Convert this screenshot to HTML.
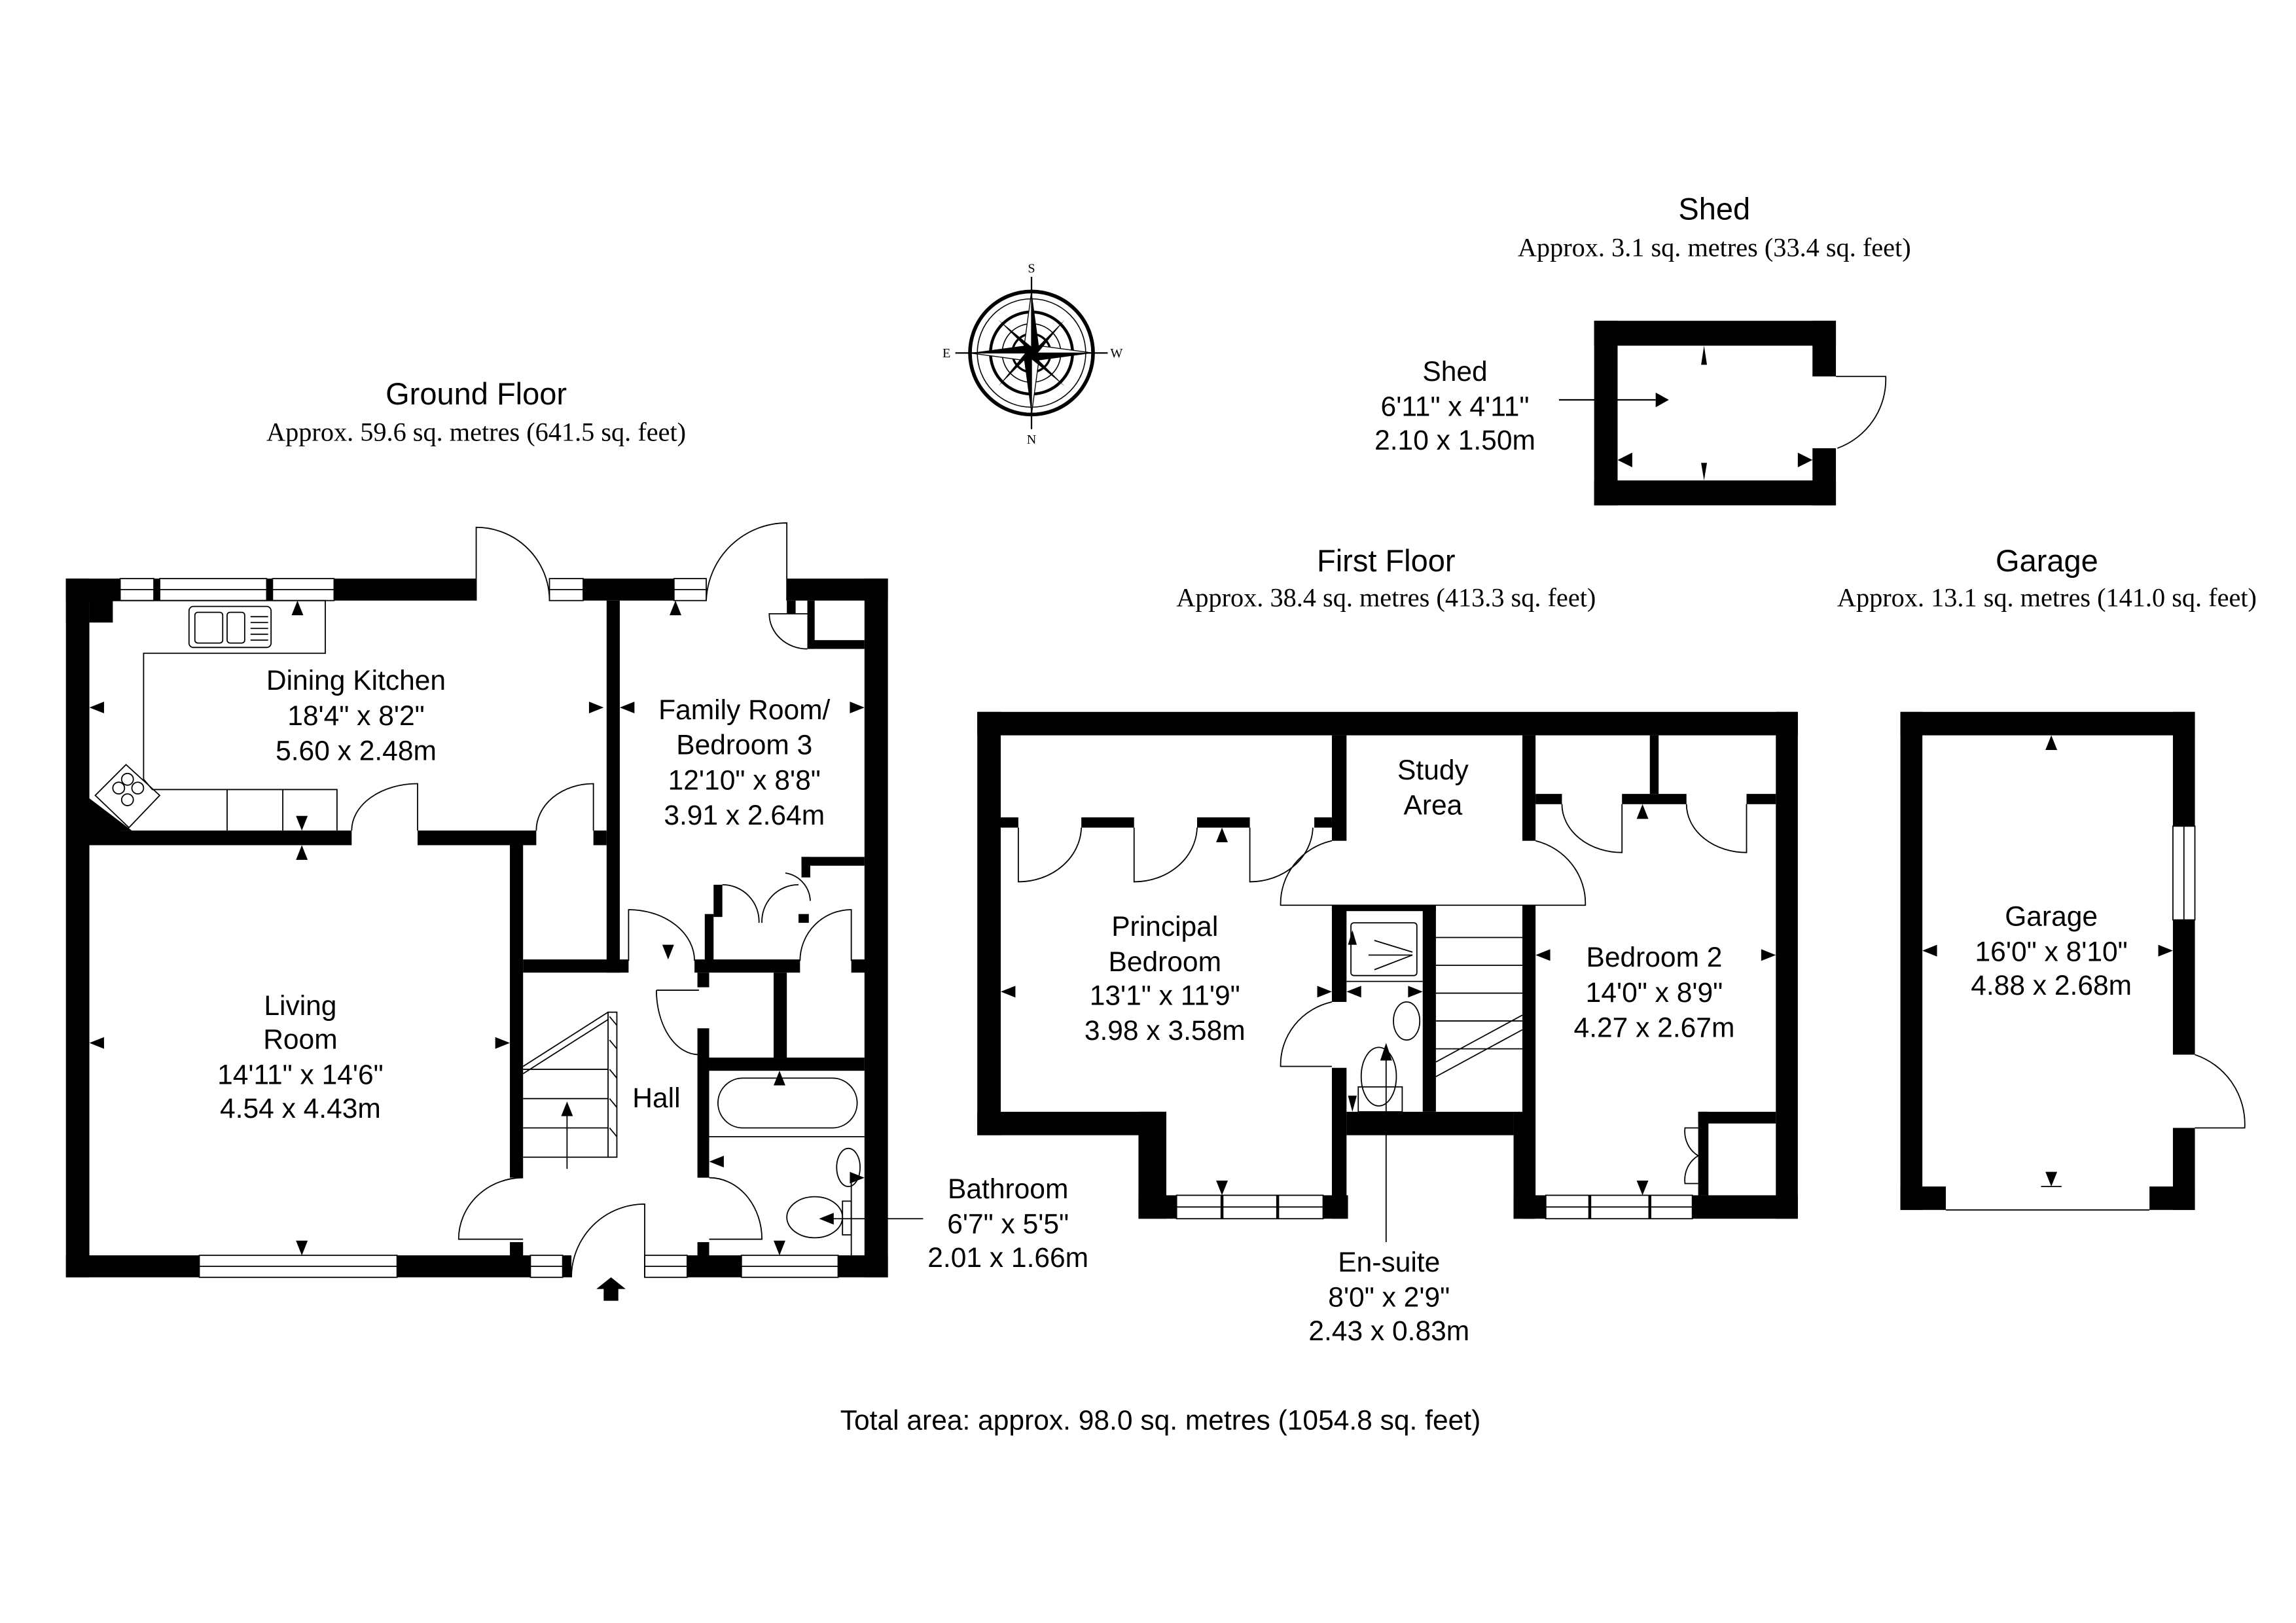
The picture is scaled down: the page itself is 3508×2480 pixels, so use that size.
<!DOCTYPE html>
<html><head><meta charset="utf-8">
<style>
html,body{margin:0;padding:0;background:#fff;}
svg{display:block;}
text{font-family:"Liberation Sans",sans-serif;fill:#000;}
.s{font-family:"Liberation Serif",serif;}
</style></head>
<body>
<svg width="3508" height="2480" viewBox="0 0 1567 1108" preserveAspectRatio="none" xmlns="http://www.w3.org/2000/svg">
<rect width="1570" height="1110" fill="#fff"/>

<text x="325" y="276" font-size="21" text-anchor="middle">Ground Floor</text>
<text x="325" y="301" font-size="18" text-anchor="middle" class="s">Approx. 59.6 sq. metres (641.5 sq. feet)</text>
<text x="1170" y="150" font-size="21" text-anchor="middle">Shed</text>
<text x="1170" y="175" font-size="18" text-anchor="middle" class="s">Approx. 3.1 sq. metres (33.4 sq. feet)</text>
<text x="946" y="390" font-size="21" text-anchor="middle">First Floor</text>
<text x="946" y="414" font-size="18" text-anchor="middle" class="s">Approx. 38.4 sq. metres (413.3 sq. feet)</text>
<text x="1397" y="390" font-size="21" text-anchor="middle">Garage</text>
<text x="1397" y="414" font-size="18" text-anchor="middle" class="s">Approx. 13.1 sq. metres (141.0 sq. feet)</text>
<text x="792" y="976" font-size="19" text-anchor="middle">Total area: approx. 98.0 sq. metres (1054.8 sq. feet)</text>

<g transform="translate(704,241)" stroke="#000" fill="none">
<circle r="42" stroke-width="2.5"/>
<circle r="37" stroke-width="0.7"/>
<circle r="28" stroke-width="2"/>
<circle r="20" stroke-width="0.7"/>
<circle r="13" stroke-width="1.5"/>
<line x1="0" y1="-52" x2="0" y2="52" stroke-width="1"/>
<line x1="-52" y1="0" x2="52" y2="0" stroke-width="1"/>
<polygon points="0,-42 5,-5 0,0" fill="#000" stroke="none"/>
<polygon points="0,-42 -5,-5 0,0" fill="#fff" stroke-width="0.6"/>
<polygon points="0,42 -5,5 0,0" fill="#000" stroke="none"/>
<polygon points="0,42 5,5 0,0" fill="#fff" stroke-width="0.6"/>
<polygon points="-42,0 -5,-5 0,0" fill="#000" stroke="none"/>
<polygon points="-42,0 -5,5 0,0" fill="#fff" stroke-width="0.6"/>
<polygon points="42,0 5,5 0,0" fill="#000" stroke="none"/>
<polygon points="42,0 5,-5 0,0" fill="#fff" stroke-width="0.6"/>
<g transform="rotate(45)">
<polygon points="0,-32 3,-3 0,0" fill="#000" stroke="none"/>
<polygon points="0,32 -3,3 0,0" fill="#000" stroke="none"/>
<polygon points="-32,0 -3,-3 0,0" fill="#000" stroke="none"/>
<polygon points="32,0 3,3 0,0" fill="#000" stroke="none"/>
</g>
</g>
<text x="704" y="186" font-size="9" text-anchor="middle" class="s">S</text>
<text x="704" y="303" font-size="9" text-anchor="middle" class="s">N</text>
<text x="646" y="244" font-size="9" text-anchor="middle" class="s">E</text>
<text x="762" y="244" font-size="9" text-anchor="middle" class="s">W</text>

<g fill="#000">
<rect x="1088" y="219" width="165" height="17"/>
<rect x="1088" y="328" width="165" height="17"/>
<rect x="1088" y="219" width="16" height="126"/>
<rect x="1237" y="219" width="16" height="38"/>
<rect x="1237" y="306" width="16" height="39"/>
</g>
<path d="M1253,257 L1287,257 A50,50 0 0 1 1254,306" fill="none" stroke="#000" stroke-width="0.8"/>
<line x1="1064" y1="273" x2="1130" y2="273" stroke="#000" stroke-width="1"/>
<polygon points="1130,268 1139,273 1130,278" fill="#000"/>
<polygon points="1163,236 1161,249 1165,249" fill="#000"/>
<polygon points="1163,328 1161,316 1165,316" fill="#000"/>
<polygon points="1104,314 1114,309 1114,319" fill="#000"/>
<polygon points="1237,314 1227,309 1227,319" fill="#000"/>
<text x="993" y="260" font-size="19" text-anchor="middle">Shed</text>
<text x="993" y="284" font-size="19" text-anchor="middle">6'11" x 4'11"</text>
<text x="993" y="307" font-size="19" text-anchor="middle">2.10 x 1.50m</text>

<g fill="#000">
<rect x="45" y="395" width="37" height="15"/>
<rect x="228" y="395" width="97" height="15"/>
<rect x="398" y="395" width="62" height="15"/>
<rect x="537" y="395" width="69" height="15"/>
<rect x="105" y="395" width="4" height="15"/>
<rect x="182" y="395" width="4" height="15"/>
<rect x="45" y="395" width="16" height="30"/>
<rect x="61" y="410" width="16" height="15"/>
<polygon points="61,548 61,577 92,577 92,575"/>
<polygon points="61,545 90,567 61,567"/>
<rect x="45" y="395" width="16" height="477"/>
<rect x="45" y="857" width="91" height="15"/>
<rect x="271" y="857" width="91" height="15"/>
<rect x="384" y="857" width="6" height="15"/>
<rect x="469" y="857" width="37" height="15"/>
<rect x="572" y="857" width="34" height="15"/>
<rect x="590" y="395" width="16" height="477"/>
<rect x="61" y="567" width="179" height="10"/>
<rect x="285" y="567" width="81" height="10"/>
<rect x="405" y="567" width="9" height="10"/>
<rect x="414" y="410" width="9" height="254"/>
<rect x="348" y="577" width="9" height="227"/>
<rect x="348" y="848" width="9" height="12"/>
<rect x="357" y="655" width="72" height="9"/>
<rect x="474" y="655" width="72" height="9"/>
<rect x="581" y="655" width="10" height="9"/>
<rect x="476" y="664" width="8" height="10"/>
<rect x="476" y="702" width="8" height="102"/>
<rect x="476" y="848" width="8" height="12"/>
<rect x="528" y="664" width="9" height="58"/>
<rect x="484" y="722" width="106" height="9"/>
<rect x="537" y="410" width="6" height="9"/>
<rect x="551" y="410" width="5" height="33"/>
<rect x="551" y="437" width="39" height="6"/>
<rect x="547" y="585" width="43" height="6"/>
<rect x="547" y="585" width="6" height="14"/>
<rect x="545" y="624" width="7" height="6"/>
<rect x="481" y="624" width="6" height="32"/>
<rect x="487" y="604" width="6" height="22"/>
</g>
<g fill="#fff" stroke="#000" stroke-width="0.8">
<rect x="82" y="395" width="23" height="15"/><rect x="109" y="395" width="73" height="15"/><rect x="186" y="395" width="42" height="15"/>
<rect x="375" y="395" width="23" height="15"/>
<rect x="460" y="395" width="22" height="15"/>
<rect x="136" y="857" width="135" height="15"/>
<rect x="362" y="857" width="22" height="15"/>
<rect x="440" y="857" width="29" height="15"/>
<rect x="506" y="857" width="66" height="15"/>
</g>
<g stroke="#000" stroke-width="0.8">
<line x1="82" y1="402.5" x2="228" y2="402.5"/>
<line x1="375" y1="402.5" x2="398" y2="402.5"/>
<line x1="460" y1="402.5" x2="482" y2="402.5"/>
<line x1="136" y1="864.5" x2="271" y2="864.5"/>
<line x1="362" y1="864.5" x2="384" y2="864.5"/>
<line x1="440" y1="864.5" x2="469" y2="864.5"/>
<line x1="506" y1="864.5" x2="572" y2="864.5"/>
</g>
<g fill="none" stroke="#000" stroke-width="0.8">
<path d="M325,410 L325,360 A50,50 0 0 1 375,410"/>
<path d="M537,410 L537,357 A55,55 0 0 0 482,410"/>
<path d="M551,419 L525,419 A26,24 0 0 0 551,443"/>
<path d="M285,567 L285,535 A45,32 0 0 0 240,567"/>
<path d="M405,567 L405,535 A39,32 0 0 0 366,567"/>
<path d="M357,804 A44,42 0 0 0 313,846 L357,846"/>
<path d="M440,872 L440,822 A50,50 0 0 0 390,872"/>
<path d="M484,804 A36,42 0 0 1 520,846 L484,846"/>
<path d="M448,676 L477,676 M448,676 A29,44 0 0 0 477,720"/>
<path d="M429,656 L429,621 A45,35 0 0 1 474,656"/>
<path d="M581,656 L581,621 A35,35 0 0 0 546,656"/>
<path d="M493,604 A25,25 0 0 1 518,630"/>
<path d="M545,604 A25,25 0 0 0 520,630"/>
<path d="M536,596 A20,20 0 0 1 553,615"/>
<polyline points="61,410 222,410 222,446 98,446 98,532 104,539 230,539 230,567"/>
<line x1="155" y1="539" x2="155" y2="567"/><line x1="193" y1="539" x2="193" y2="567"/>
<rect x="129" y="414" width="56" height="28" rx="3"/>
<rect x="133" y="418" width="19" height="21" rx="2"/>
<rect x="155" y="418" width="12" height="21" rx="2"/>
<line x1="171" y1="421" x2="183" y2="421"/><line x1="171" y1="425" x2="183" y2="425"/><line x1="171" y1="429" x2="183" y2="429"/><line x1="171" y1="433" x2="183" y2="433"/><line x1="171" y1="437" x2="183" y2="437"/>
<polygon points="65,543 86,522 109,543 88,565"/>
<circle cx="81" cy="538" r="4"/><circle cx="94" cy="538" r="4"/><circle cx="87" cy="532" r="4"/><circle cx="87" cy="546" r="4"/>
<rect x="415" y="691" width="6" height="99"/>
<line x1="357" y1="730" x2="415" y2="730"/><line x1="357" y1="750" x2="415" y2="750"/><line x1="357" y1="770" x2="415" y2="770"/><line x1="357" y1="790" x2="415" y2="790"/>
<line x1="357" y1="728" x2="415" y2="691"/><line x1="357" y1="733" x2="415" y2="696"/>
<line x1="387" y1="798" x2="387" y2="755"/>
<rect x="490" y="736" width="95" height="34" rx="17"/>
<line x1="484" y1="776" x2="590" y2="776"/>
<ellipse cx="579" cy="797" rx="8" ry="13"/>
<ellipse cx="556" cy="831" rx="19" ry="14"/>
<rect x="575" y="820" width="6" height="23"/>
<line x1="581" y1="806" x2="581" y2="857"/>
<line x1="560" y1="832" x2="630" y2="832"/>
</g>
<g stroke="#000" stroke-width="0.8" fill="none">
<line x1="416" y1="694" x2="421" y2="700"/><line x1="416" y1="710" x2="421" y2="716"/><line x1="416" y1="730" x2="421" y2="736"/><line x1="416" y1="750" x2="421" y2="756"/><line x1="416" y1="770" x2="421" y2="776"/>
</g>
<polygon points="383,762 387,752 391,762" fill="#000"/>
<polygon points="559,832 569,828 569,836" fill="#000"/>
<polygon points="417,872 427,880 422,880 422,888 412,888 412,880 407,880" fill="#000"/>
<g fill="#000">
<polygon points="61,483 71,479 71,487"/><polygon points="412,483 402,479 402,487"/>
<polygon points="423,483 433,479 433,487"/><polygon points="590,483 580,479 580,487"/>
<polygon points="203,410 199,420 207,420"/><polygon points="206,567 202,557 210,557"/>
<polygon points="206,577 202,587 210,587"/><polygon points="206,857 202,847 210,847"/>
<polygon points="61,712 71,708 71,716"/><polygon points="348,712 338,708 338,716"/>
<polygon points="461,410 457,420 465,420"/><polygon points="456,655 452,645 460,645"/>
<polygon points="532,731 528,741 536,741"/><polygon points="484,793 494,789 494,797"/>
<polygon points="590,804 580,800 580,808"/><polygon points="532,857 528,847 536,847"/>
</g>
<text x="243" y="471" font-size="19" text-anchor="middle">Dining Kitchen</text>
<text x="243" y="495" font-size="19" text-anchor="middle">18'4" x 8'2"</text>
<text x="243" y="519" font-size="19" text-anchor="middle">5.60 x 2.48m</text>
<text x="508" y="491" font-size="19" text-anchor="middle">Family Room/</text>
<text x="508" y="515" font-size="19" text-anchor="middle">Bedroom 3</text>
<text x="508" y="539" font-size="19" text-anchor="middle">12'10" x 8'8"</text>
<text x="508" y="563" font-size="19" text-anchor="middle">3.91 x 2.64m</text>
<text x="205" y="693" font-size="19" text-anchor="middle">Living</text>
<text x="205" y="716" font-size="19" text-anchor="middle">Room</text>
<text x="205" y="740" font-size="19" text-anchor="middle">14'11" x 14'6"</text>
<text x="205" y="763" font-size="19" text-anchor="middle">4.54 x 4.43m</text>
<text x="448" y="756" font-size="19" text-anchor="middle">Hall</text>
<text x="688" y="818" font-size="19" text-anchor="middle">Bathroom</text>
<text x="688" y="842" font-size="19" text-anchor="middle">6'7" x 5'5"</text>
<text x="688" y="865" font-size="19" text-anchor="middle">2.01 x 1.66m</text>

<g fill="#000">
<rect x="667" y="486" width="560" height="16"/>
<rect x="667" y="486" width="16" height="289"/>
<rect x="667" y="759" width="129" height="16"/>
<rect x="777" y="759" width="19" height="73"/>
<rect x="777" y="816" width="26" height="16"/>
<rect x="903" y="816" width="17" height="16"/>
<rect x="909" y="502" width="10" height="72"/>
<rect x="909" y="618" width="10" height="66"/>
<rect x="909" y="729" width="10" height="103"/>
<rect x="919" y="759" width="114" height="16"/>
<rect x="909" y="618" width="71" height="4"/>
<rect x="971" y="620" width="9" height="139"/>
<rect x="1033" y="759" width="14" height="73"/>
<rect x="1039" y="502" width="9" height="72"/>
<rect x="1039" y="618" width="9" height="214"/>
<rect x="1033" y="816" width="22" height="16"/>
<rect x="1155" y="816" width="72" height="16"/>
<rect x="1212" y="486" width="15" height="346"/>
<rect x="683" y="558" width="12" height="7"/>
<rect x="738" y="558" width="36" height="7"/>
<rect x="817" y="558" width="36" height="7"/>
<rect x="897" y="558" width="12" height="7"/>
<rect x="1048" y="542" width="18" height="7"/>
<rect x="1107" y="542" width="44" height="7"/>
<rect x="1192" y="542" width="20" height="7"/>
<rect x="1126" y="502" width="6" height="40"/>
<rect x="1159" y="759" width="53" height="8"/>
<rect x="1159" y="759" width="7" height="57"/>
</g>
<g fill="#fff" stroke="#000" stroke-width="0.8">
<rect x="803" y="816" width="100" height="16"/>
<rect x="1055" y="816" width="100" height="16"/>
</g>
<g stroke="#000" stroke-width="0.8" fill="none">
<line x1="803" y1="824" x2="903" y2="824"/><line x1="1055" y1="824" x2="1155" y2="824"/>
<line x1="834" y1="816" x2="834" y2="832" stroke-width="2"/><line x1="872" y1="816" x2="872" y2="832" stroke-width="2"/>
<line x1="1085" y1="816" x2="1085" y2="832" stroke-width="2"/><line x1="1126" y1="816" x2="1126" y2="832" stroke-width="2"/>
<path d="M695,565 L695,602 A43,38 0 0 0 738,565"/>
<path d="M774,565 L774,602 A43,38 0 0 0 817,565"/>
<path d="M853,565 L853,602 A43,38 0 0 0 896,565"/>
<path d="M1066,549 A41,33 0 0 0 1107,582 L1107,549"/>
<path d="M1151,549 A41,33 0 0 0 1192,582 L1192,549"/>
<path d="M909,574 A45,44 0 0 0 874,618 L1082,618 A45,44 0 0 0 1048,574"/>
<path d="M909,684 A45,44 0 0 0 874,728 L909,728"/>
<path d="M1159,770 L1150,770 A18,19 0 0 0 1159,789 A18,19 0 0 0 1150,808 L1159,808"/>
<rect x="922" y="630" width="45" height="36" rx="2"/>
<line x1="919" y1="670" x2="971" y2="670"/>
<line x1="938" y1="642" x2="964" y2="650"/><line x1="938" y1="662" x2="964" y2="652"/><line x1="934" y1="652" x2="964" y2="652"/>
<ellipse cx="960" cy="697" rx="9" ry="13"/>
<ellipse cx="941" cy="735" rx="12" ry="20"/>
<rect x="927" y="742" width="30" height="17"/>
<line x1="980" y1="640" x2="1039" y2="640"/><line x1="980" y1="659" x2="1039" y2="659"/><line x1="980" y1="678" x2="1039" y2="678"/><line x1="980" y1="697" x2="1039" y2="697"/><line x1="980" y1="716" x2="1039" y2="716"/>
<line x1="980" y1="725" x2="1039" y2="693"/><line x1="980" y1="735" x2="1039" y2="703"/>
<line x1="946" y1="722" x2="946" y2="848"/>
</g>
<g fill="#000">
<polygon points="683,677 693,673 693,681"/><polygon points="909,677 899,673 899,681"/>
<polygon points="919,677 929,673 929,681"/><polygon points="971,677 961,673 961,681"/>
<polygon points="834,565 830,575 838,575"/><polygon points="834,816 830,806 838,806"/>
<polygon points="1048,652 1058,648 1058,656"/><polygon points="1212,652 1202,648 1202,656"/>
<polygon points="1121,549 1117,559 1125,559"/><polygon points="1121,816 1117,806 1125,806"/>
<polygon points="923,635 920,645 926,645"/><polygon points="946,712 942,724 950,724"/>
<polygon points="923,759 920,748 926,748"/>
</g>
<text x="795" y="639" font-size="19" text-anchor="middle">Principal</text>
<text x="795" y="663" font-size="19" text-anchor="middle">Bedroom</text>
<text x="795" y="686" font-size="19" text-anchor="middle">13'1" x 11'9"</text>
<text x="795" y="710" font-size="19" text-anchor="middle">3.98 x 3.58m</text>
<text x="978" y="532" font-size="19" text-anchor="middle">Study</text>
<text x="978" y="556" font-size="19" text-anchor="middle">Area</text>
<text x="1129" y="660" font-size="19" text-anchor="middle">Bedroom 2</text>
<text x="1129" y="684" font-size="19" text-anchor="middle">14'0" x 8'9"</text>
<text x="1129" y="708" font-size="19" text-anchor="middle">4.27 x 2.67m</text>
<text x="948" y="868" font-size="19" text-anchor="middle">En-suite</text>
<text x="948" y="892" font-size="19" text-anchor="middle">8'0" x 2'9"</text>
<text x="948" y="915" font-size="19" text-anchor="middle">2.43 x 0.83m</text>

<g fill="#000">
<rect x="1297" y="486" width="201" height="16"/>
<rect x="1297" y="486" width="15" height="340"/>
<rect x="1483" y="486" width="15" height="78"/>
<rect x="1483" y="628" width="15" height="92"/>
<rect x="1483" y="770" width="15" height="56"/>
<rect x="1297" y="810" width="31" height="16"/>
<rect x="1467" y="810" width="31" height="16"/>
</g>
<g fill="#fff" stroke="#000" stroke-width="0.8">
<rect x="1483" y="564" width="15" height="64"/>
</g>
<g stroke="#000" stroke-width="0.8" fill="none">
<line x1="1490.5" y1="564" x2="1490.5" y2="628"/>
<line x1="1328" y1="826" x2="1467" y2="826"/>
<line x1="1393" y1="810" x2="1407" y2="810"/>
<path d="M1498,720 A50,50 0 0 1 1532,770 L1498,770"/>
</g>
<g fill="#000">
<polygon points="1400,502 1396,512 1404,512"/><polygon points="1400,810 1396,800 1404,800"/>
<polygon points="1312,649 1322,645 1322,653"/><polygon points="1483,649 1473,645 1473,653"/>
</g>
<text x="1400" y="632" font-size="19" text-anchor="middle">Garage</text>
<text x="1400" y="656" font-size="19" text-anchor="middle">16'0" x 8'10"</text>
<text x="1400" y="679" font-size="19" text-anchor="middle">4.88 x 2.68m</text>
</svg>
</body></html>
